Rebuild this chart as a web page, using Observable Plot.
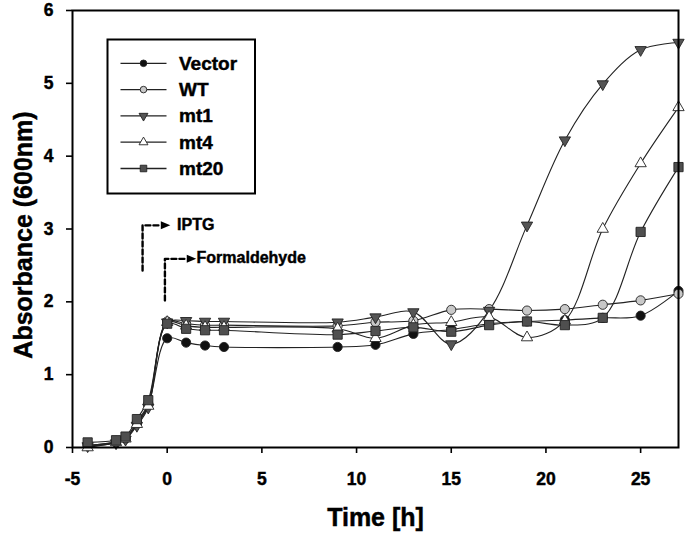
<!DOCTYPE html>
<html>
<head>
<meta charset="utf-8">
<script src="https://cdn.jsdelivr.net/npm/d3@7"></script>
<script src="https://cdn.jsdelivr.net/npm/@observablehq/plot@0.6"></script>
<style>
  html, body { margin: 0; padding: 0; background: #fff; }
  #chart { width: 685px; height: 538px; }
  #chart svg text { font-weight: 700 !important; font-family: 'Liberation Sans', Arial, Helvetica, sans-serif !important; stroke: #000; stroke-width: 0.45px; }
</style>
</head>
<body>
<div id="chart"></div>
<script>
// ---- Data ----
const times = [-4.2, -2.7, -2.2, -1.6, -1.0, 0, 1, 2, 3, 9, 11, 13, 15, 17, 19, 21, 23, 25, 27];
const seriesNames = ["Vector", "WT", "mt1", "mt4", "mt20"];
const vectorValues = [0.03, 0.07, 0.12, 0.33, 0.58, 1.50, 1.44, 1.40, 1.38, 1.38, 1.41, 1.56, 1.62, 1.70, 1.73, 1.75, 1.78, 1.81, 2.15];
const wtValues     = [0.03, 0.08, 0.13, 0.35, 0.60, 1.73, 1.70, 1.68, 1.68, 1.67, 1.72, 1.74, 1.89, 1.90, 1.88, 1.90, 1.96, 2.02, 2.11];
const mt1Values    = [0.02, 0.06, 0.11, 0.30, 0.55, 1.72, 1.74, 1.73, 1.73, 1.72, 1.79, 1.86, 1.42, 1.88, 3.05, 4.22, 4.99, 5.46, 5.56];
const mt4Values    = [0.00, 0.07, 0.12, 0.32, 0.57, 1.72, 1.67, 1.65, 1.65, 1.63, 1.50, 1.68, 1.72, 1.79, 1.51, 1.74, 3.00, 3.90, 4.67];
const mt20Values   = [0.07, 0.10, 0.15, 0.39, 0.65, 1.70, 1.63, 1.61, 1.61, 1.55, 1.60, 1.65, 1.59, 1.68, 1.73, 1.68, 1.78, 2.96, 3.85];
const xTicks = [-5, 0, 5, 10, 15, 20, 25];
const yTicks = [0, 1, 2, 3, 4, 5, 6];
// annotation arrows (data units)
const annotationLabels = ["IPTG", "Formaldehyde"];
const iptgPathX = [-1.3, -1.3, -0.35];
const iptgPathY = [2.43, 3.05, 3.05];
const formPathX = [-0.12, -0.12, 0.95];
const formPathY = [2.02, 2.59, 2.59];
const arrowTipX = [-0.1, 1.27];
const arrowTipY = [3.05, 2.59];
const labelX = [0.52, 1.55];
const labelY = [3.05, 2.60];

// ---- Build tables ----
const valuesBySeries = [vectorValues, wtValues, mt1Values, mt4Values, mt20Values];
const rows = seriesNames.flatMap((s, i) => times.map((t, j) => ({series: s, t, v: valuesBySeries[i][j]})));

const triangleDown = {
  draw(context, size) {
    const y = -Math.sqrt(size / (Math.sqrt(3) * 3));
    context.moveTo(0, -y * 2);
    context.lineTo(-Math.sqrt(3) * y, y);
    context.lineTo(Math.sqrt(3) * y, y);
    context.closePath();
  }
};
const arrowRight = {
  draw(context, size) {
    context.moveTo(5, 0);
    context.lineTo(-4.5, -4);
    context.lineTo(-4.5, 4);
    context.closePath();
  }
};

const styles = {
  Vector: {symbol: "circle", fill: "#111", r: 4.6},
  WT: {symbol: "circle", fill: "#c8c8c8", r: 4.6},
  mt1: {symbol: triangleDown, fill: "#555", r: 4.2},
  mt4: {symbol: "triangle", fill: "#fff", r: 4.2},
  mt20: {symbol: "square", fill: "#4f4f4f", r: 5.2}
};
const legendSizes = {Vector: 3.3, WT: 3.3, mt1: 3.3, mt4: 3.3, mt20: 3.7};

const iptgPath = iptgPathX.map((x, i) => ({x, y: iptgPathY[i]}));
const formPath = formPathX.map((x, i) => ({x, y: formPathY[i]}));
const tips = arrowTipX.map((x, i) => ({x, y: arrowTipY[i]}));
const labels = annotationLabels.map((text, i) => ({text, x: labelX[i], y: labelY[i]}));

const font = "'Liberation Sans', Arial, Helvetica, sans-serif";

const plot = Plot.plot({
  width: 685,
  height: 538,
  marginLeft: 72,
  marginRight: 7,
  marginTop: 10,
  marginBottom: 91,
  style: {fontFamily: font, fontWeight: "bold", fontSize: "17px", color: "#000", background: "#fff", overflow: "visible"},
  x: {domain: [-5, 27]},
  y: {domain: [0, 6]},
  marks: [
    Plot.axisX({ticks: xTicks, tickSize: 6, tickPadding: 19, tickFormat: d => String(d), label: null, strokeWidth: 1.6, fontSize: 17.5, fontWeight: "bold", fill: "#000"}),
    Plot.axisY({ticks: yTicks, tickSize: 6, tickPadding: 13, tickFormat: d => String(d), label: null, strokeWidth: 1.6, fontSize: 17.5, fontWeight: "bold", fill: "#000"}),
    Plot.text(["Time [h]"], {frameAnchor: "bottom", lineAnchor: "middle", textAnchor: "middle", dy: 70, fontSize: 25, fontWeight: "bold", fill: "#000"}),
    Plot.text(["Absorbance (600nm)"], {frameAnchor: "left", lineAnchor: "middle", textAnchor: "middle", dx: -49, dy: 6, rotate: -90, fontSize: 25, fontWeight: "bold", fill: "#000"}),
    // annotations
    Plot.line(iptgPath, {x: "x", y: "y", stroke: "#000", strokeWidth: 2.4, strokeDasharray: "5,3", curve: "linear"}),
    Plot.line(formPath, {x: "x", y: "y", stroke: "#000", strokeWidth: 2.4, strokeDasharray: "5,3", curve: "linear"}),
    Plot.dot(tips, {x: "x", y: "y", symbol: arrowRight, fill: "#000", stroke: "none", r: 3}),
    Plot.text(labels, {x: "x", y: "y", text: "text", textAnchor: "start", fontSize: 16, fontWeight: "bold", fill: "#000"}),
    // series lines
    Plot.line(rows, {x: "t", y: "v", z: "series", stroke: "#222", strokeWidth: 1.1, curve: "catmull-rom"}),
    // series markers
    ...seriesNames.map(s => Plot.dot(rows.filter(d => d.series === s), {
      x: "t", y: "v", symbol: styles[s].symbol, fill: styles[s].fill, r: styles[s].r,
      stroke: "#222", strokeWidth: 0.9
    })),
    Plot.frame({stroke: "#000", strokeWidth: 2})
  ]
});

// ---- Legend (drawn inside the plot area) ----
const svg = d3.select(plot);
const lg = svg.append("g").attr("font-family", font).attr("font-weight", "bold").attr("text-anchor", "start");
lg.append("rect").attr("x", 107.5).attr("y", 39.5).attr("width", 147.5).attr("height", 154)
  .attr("fill", "#fff").attr("stroke", "#000").attr("stroke-width", 2);
seriesNames.forEach((s, i) => {
  const cy = 63.3 + i * 26.3;
  lg.append("line").attr("x1", 120.5).attr("x2", 166.5).attr("y1", cy).attr("y2", cy)
    .attr("stroke", "#222").attr("stroke-width", 1.3);
  const r = legendSizes[s];
  const sym = typeof styles[s].symbol === "string"
    ? ({circle: d3.symbolCircle, triangle: d3.symbolTriangle, square: d3.symbolSquare})[styles[s].symbol]
    : styles[s].symbol;
  lg.append("path").attr("d", d3.symbol(sym, r * r * Math.PI)())
    .attr("transform", `translate(143.5,${cy})`)
    .attr("fill", styles[s].fill).attr("stroke", "#222").attr("stroke-width", 0.9);
  lg.append("text").attr("x", 179).attr("y", cy).attr("dy", "0.34em")
    .attr("text-anchor", "start")
    .attr("font-size", 19).attr("fill", "#000").text(s);
});

document.getElementById("chart").appendChild(plot);
</script>
</body>
</html>
